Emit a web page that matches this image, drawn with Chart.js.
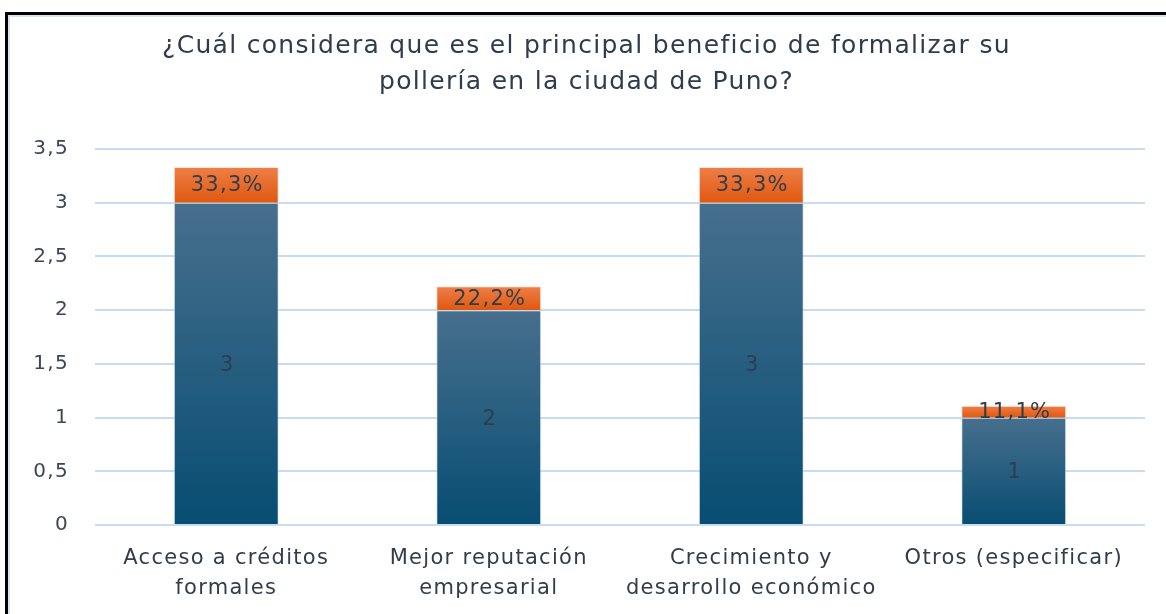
<!DOCTYPE html>
<html>
<head>
<meta charset="utf-8">
<script src="https://cdn.jsdelivr.net/npm/chart.js@4.4.0/dist/chart.umd.min.js"></script>
<style>
  html, body { margin: 0; padding: 0; background: #fff; overflow: hidden; }
  #frame { position: absolute; left: 5px; top: 12px; width: 1161px; height: 602px;
           border-top: 3px solid #000; border-left: 3px solid #000; box-sizing: border-box; }
  #inner { position: absolute; left: 0; top: 0; right: 0; bottom: 0;
           border-top: 2px solid #d6e4f3; border-left: 2px solid #d6e4f3; }
  #chart { position: absolute; left: 10px; top: 17px; }
</style>
</head>
<body>
<div id="frame"><div id="inner"></div></div>
<canvas id="chart" width="1156" height="597"></canvas>
<script>
const categories = [
  ["Acceso a créditos", "formales"],
  ["Mejor reputación", "empresarial"],
  ["Crecimiento y", "desarrollo económico"],
  ["Otros (especificar)"]
];
const counts = [3, 2, 3, 1];
const shares = [0.333, 0.222, 0.333, 0.111];
const shareLabels = ["33,3%", "22,2%", "33,3%", "11,1%"];
const titleLines = [
  "¿Cuál considera que es el principal beneficio de formalizar su",
  "pollería en la ciudad de Puno?"
];
const FONT = "'DejaVu Sans'";

function barGradient(ctx, top, bottom) {
  const chart = ctx.chart;
  const area = chart.chartArea;
  if (!area) return top;
  const y = chart.scales.y;
  const d = ctx.dataset.data;
  const i = ctx.dataIndex;
  let start = 0;
  if (ctx.datasetIndex === 1) start = counts[i];
  const y0 = y.getPixelForValue(start + d[i]);
  const y1 = y.getPixelForValue(start);
  const g = chart.ctx.createLinearGradient(0, y0, 0, y1);
  g.addColorStop(0, top);
  g.addColorStop(1, bottom);
  return g;
}

// the source picture has wide text
const spacing = {
  id: "spacing",
  beforeDraw(chart) { chart.ctx.letterSpacing = "1.3px"; }
};

const barLabels = {
  id: "barLabels",
  afterDatasetsDraw(chart) {
    const c = chart.ctx;
    c.save();
    c.textAlign = "center";
    c.textBaseline = "middle";
    c.fillStyle = "#2f3d4c";
    chart.getDatasetMeta(0).data.forEach((bar, i) => {
      c.font = "21px " + FONT;
      c.fillText(String(counts[i]), bar.x + 1, (bar.y + bar.base) / 2 + 2);
    });
    chart.getDatasetMeta(1).data.forEach((bar, i) => {
      c.font = "21px " + FONT;
      c.fillText(shareLabels[i], bar.x + 1, (bar.y + bar.base) / 2 + 1);
    });
    c.restore();
  }
};

new Chart(document.getElementById("chart"), {
  type: "bar",
  data: {
    labels: categories,
    datasets: [
      {
        data: counts,
        backgroundColor: (ctx) => barGradient(ctx, "#476f8d", "#074d72"),
        borderColor: "rgba(200,220,240,0.6)",
        borderWidth: 1,
        barPercentage: 0.4,
        categoryPercentage: 1
      },
      {
        data: shares,
        backgroundColor: (ctx) => barGradient(ctx, "#ee7f48", "#e0580f"),
        borderColor: "rgba(255,210,190,0.6)",
        borderWidth: 1,
        barPercentage: 0.4,
        categoryPercentage: 1
      }
    ]
  },
  options: {
    responsive: false,
    animation: false,
    devicePixelRatio: 1,
    layout: { padding: { left: 18, right: 21, top: 0, bottom: 0 } },
    plugins: {
      legend: { display: false },
      tooltip: { enabled: false },
      title: {
        display: true,
        text: titleLines,
        color: "#2d3d4e",
        font: { family: FONT, size: 25, weight: "normal", lineHeight: 1.46 },
        padding: { top: 11, bottom: 48 }
      }
    },
    scales: {
      x: {
        stacked: true,
        grid: { display: false },
        border: { display: false },
        ticks: {
          color: "#2f3d4c",
          font: { family: FONT, size: 21, lineHeight: 1.45 },
          padding: 10,
          maxRotation: 0,
          autoSkip: false
        }
      },
      y: {
        stacked: true,
        min: 0,
        max: 3.5,
        afterFit: (s) => { s.width = 67; },
        grid: { color: "#c8dcf0", lineWidth: 2, drawTicks: false },
        border: { display: false },
        ticks: {
          stepSize: 0.5,
          color: "#3b4856",
          padding: 26,
          font: { family: FONT, size: 20 },
          callback: (v) => String(v).replace(".", ",")
        }
      }
    }
  },
  plugins: [spacing, barLabels]
});
</script>
</body>
</html>
